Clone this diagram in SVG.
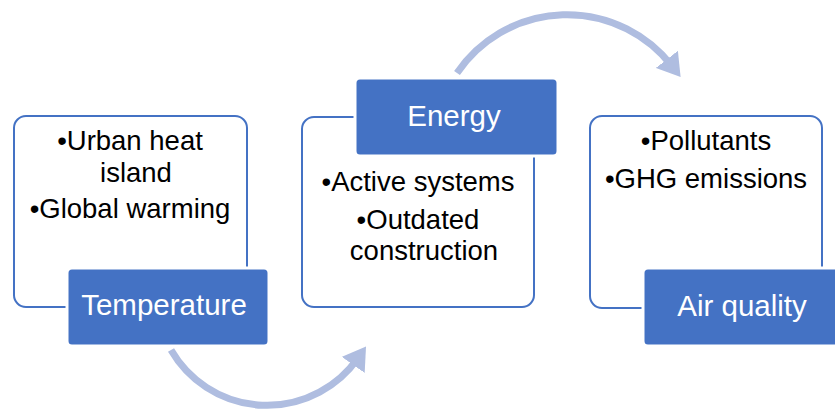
<svg xmlns="http://www.w3.org/2000/svg" width="835" height="410" viewBox="0 0 835 410">
<defs>
<style>
.box{fill:#FFFFFF;stroke:#4472C4;stroke-width:2}
.lab{fill:#4472C4;stroke:#FFFFFF;stroke-width:3}
.body{font-family:"Liberation Sans",Arial,sans-serif;font-size:27.5px;fill:#000000;text-anchor:middle}
.title{font-family:"Liberation Sans",Arial,sans-serif;font-size:29.5px;fill:#FFFFFF;text-anchor:middle}
.arc{fill:none;stroke:#AFBDE0;stroke-width:7}
</style>
<marker id="ah" markerWidth="4" markerHeight="4" refX="1.2" refY="2" orient="auto" markerUnits="strokeWidth">
<path d="M0,0 L3.2,2 L0,4 Z" fill="#AFBDE0"/>
</marker>
</defs>
<rect width="835" height="410" fill="#FFFFFF"/>
<g id="connectors">
<path class="arc" d="M 171 350 A 111 111 0 0 0 358 358" marker-end="url(#ah)"/>
<path class="arc" d="M 457 73 A 133 133 0 0 1 672 66" marker-end="url(#ah)"/>
</g>
<g id="temperature">
<rect class="box" x="14" y="116" width="233" height="191" rx="12"/>
<text class="body" x="130" y="150">•Urban heat</text>
<text class="body" x="136" y="182">island</text>
<text class="body" x="130" y="218">•Global warming</text>
<rect class="lab" x="67" y="268" width="202" height="78" rx="5"/>
<text class="title" x="164" y="315">Temperature</text>
</g>
<g id="energy">
<rect class="box" x="302" y="117" width="232" height="190" rx="12"/>
<text class="body" x="418" y="191">•Active systems</text>
<text class="body" x="418" y="229">•Outdated</text>
<text class="body" x="424" y="260">construction</text>
<rect class="lab" x="355" y="78" width="203" height="78" rx="5"/>
<text class="title" x="454" y="126">Energy</text>
</g>
<g id="airquality">
<rect class="box" x="590" y="116" width="232" height="192" rx="12"/>
<text class="body" x="706" y="150">•Pollutants</text>
<text class="body" x="706" y="188">•GHG emissions</text>
<rect class="lab" x="643" y="268" width="203" height="78" rx="5"/>
<text class="title" x="742" y="316">Air quality</text>
</g>
</svg>
